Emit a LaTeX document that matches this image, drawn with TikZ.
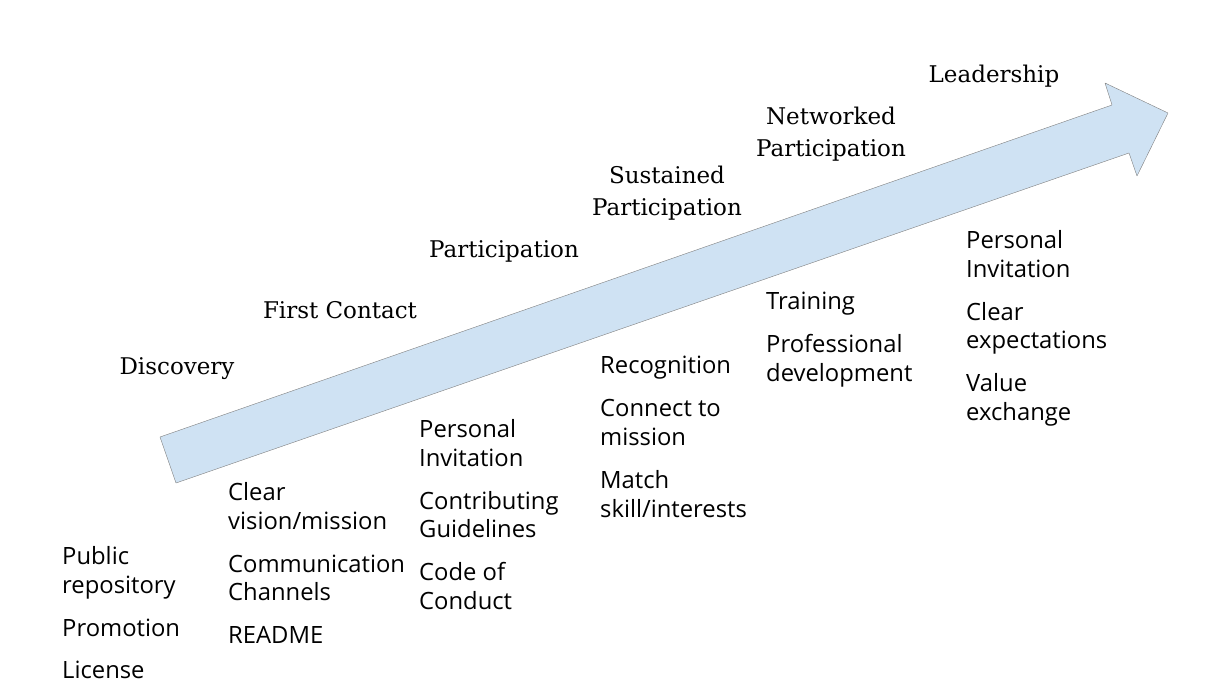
\documentclass[tikz,border=0pt]{standalone}
\usepackage{fontspec}
\setmainfont{Open Sans}
\newfontfamily\stagefont{DejaVu Serif}
\usetikzlibrary{positioning}
\definecolor{shaftblue}{HTML}{CFE2F3}
\definecolor{edgegray}{HTML}{7F7F7F}

\begin{document}
\begin{tikzpicture}[
      x=1pt, y=-1pt,
      stage/.style={
        font=\stagefont\fontsize{23}{32}\selectfont,
        align=center,
        inner sep=0
      },
      steps/.style={
        font=\fontsize{23.8}{28.9}\selectfont,
        align=left,
        anchor=north west,
        inner sep=0
      }
    ]
    \useasboundingbox (0,0) rectangle (1226,690);

    % the big arrow
    \draw[edgegray, fill=shaftblue, line join=round]
      (160,437) -- (1112,105) -- (1105,83) -- (1168,113)
      -- (1137,176) -- (1129,153) -- (176,483) -- cycle;

    % stages
    \node[stage] (discovery) at (177,369) {Discovery};
    \node[stage] (contact) at (340,310) {First Contact};
    \node[stage] (participation) at (504,251) {Participation};
    \node[stage] (sustained) at (667,193) {Sustained\\Participation};
    \node[stage] (networked) at (831,134) {Networked\\Participation};
    \node[stage] (leadership) at (994,76) {Leadership};

    % what each stage needs
    \node[steps] (discoverysteps) at (62,546) {Public\\repository\\[14pt]Promotion\\[14pt]License};
    \node[steps] (contactsteps) at (228,482) {Clear\\vision/mission\\[14pt]Communication\\Channels\\[14pt]README};
    \node[steps] (participationsteps) at (419,419) {Personal\\Invitation\\[14pt]Contributing\\Guidelines\\[14pt]Code of\\Conduct};
    \node[steps] (sustainedsteps) at (600,356) {Recognition\\[14pt]Connect to\\mission\\[14pt]Match\\skill/interests};
    \node[steps] (networkedsteps) at (766,292) {Training\\[14pt]Professional\\development};
    \node[steps] (leadershipsteps) at (966,230) {Personal\\Invitation\\[14pt]Clear\\expectations\\[14pt]Value\\exchange};

    \end{tikzpicture}
\end{document}
